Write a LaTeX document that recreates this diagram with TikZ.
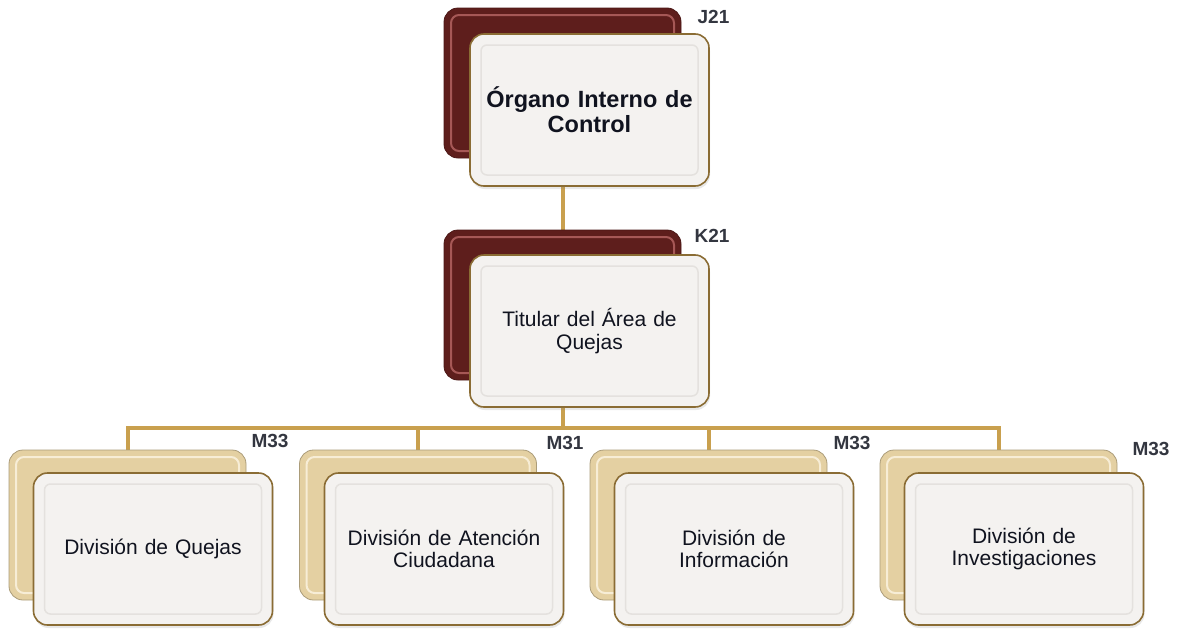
\documentclass[tikz,border=0pt]{standalone}
\usepackage{fontspec}
\setmainfont{Liberation Sans}
\usetikzlibrary{backgrounds,shadows}
\definecolor{maroon}{HTML}{5E1E1C}
\definecolor{maroonhi}{HTML}{A65856}
\definecolor{tan}{HTML}{E4D0A2}
\definecolor{tanhi}{HTML}{F7EDD6}
\definecolor{gold}{HTML}{C9A04E}
\definecolor{frontfill}{HTML}{F4F2F0}
\definecolor{frontbevel}{HTML}{E4E1DE}
\definecolor{frontedge}{HTML}{8A6C34}
\definecolor{labelc}{HTML}{333640}
\definecolor{textc}{HTML}{10131F}
\tikzset{
  backbase/.style={rectangle, rounded corners=14pt, minimum width=237pt, minimum height=150pt, inner sep=0pt},
  backmaroon/.style={backbase, fill=maroon, draw=maroon!80!black, line width=0.8pt,
    path picture={\draw[maroonhi, line width=2pt, rounded corners=8pt]
      ([shift={(7pt,-7pt)}]path picture bounding box.north west) rectangle
      ([shift={(-7pt,7pt)}]path picture bounding box.south east);}},
  backtan/.style={backbase, fill=tan, draw=tan!75!black, line width=0.8pt,
    path picture={\draw[tanhi, line width=2pt, rounded corners=8pt]
      ([shift={(7pt,-7pt)}]path picture bounding box.north west) rectangle
      ([shift={(-7pt,7pt)}]path picture bounding box.south east);}},
  frontbox/.style={rectangle, rounded corners=14pt, minimum width=239pt, minimum height=152pt,
    inner sep=4pt, fill=frontfill, draw=frontedge, line width=1.6pt,
    text width=220pt, align=center, text=textc, font=\fontsize{21}{22.5}\selectfont,
    drop shadow={shadow xshift=1pt, shadow yshift=-3pt, opacity=0.18},
    path picture={\draw[frontbevel, line width=1.5pt, rounded corners=6pt]
      ([shift={(11pt,-11pt)}]path picture bounding box.north west) rectangle
      ([shift={(-11pt,11pt)}]path picture bounding box.south east);}},
  levellabel/.style={font=\bfseries\fontsize{19}{20}\selectfont, text=labelc, inner sep=0pt},
  link/.style={draw=gold, line width=4pt}
}
\begin{document}
\begin{tikzpicture}[x=1pt,y=-1pt]
\useasboundingbox (0,0) rectangle (1179,632);
% top
\node[backmaroon] (jback) at (562.5,83) {};
\node[frontbox, font=\bfseries\fontsize{23.5}{25}\selectfont] (jfront) at (589.5,110) {Órgano Interno de\\Control};
\node[levellabel] (jlab) at (713.5,17) {J21};
% second
\node[backmaroon] (kback) at (562.5,305) {};
\node[frontbox] (kfront) at (589.5,331) {Titular del Área de\\Quejas};
\node[levellabel] (klab) at (712,236) {K21};
% bottom row
\node[backtan] (d1back) at (127.5,525) {};
\node[frontbox] (d1front) at (153,549) {División de Quejas};
\node[levellabel] (d1lab) at (270,441) {M33};
\node[backtan] (d2back) at (418,525) {};
\node[frontbox] (d2front) at (444,549) {División de Atención\\Ciudadana};
\node[levellabel] (d2lab) at (565,443) {M31};
\node[backtan] (d3back) at (708.5,525) {};
\node[frontbox] (d3front) at (734,549) {División de\\Información};
\node[levellabel] (d3lab) at (852,443) {M33};
\node[backtan] (d4back) at (998.5,525) {};
\node[frontbox] (d4front) at (1024,549) {División de\\Investigaciones};
\node[levellabel] (d4lab) at (1151,449) {M33};
\coordinate (bus) at (562.5,428);
\begin{scope}[on background layer]
  \draw[link] (jback.south) -- (kback.north);
  \draw[link] (kback.south) -- (bus);
  \draw[link] (bus) -| (d1back.north);
  \draw[link] (bus) -| (d2back.north);
  \draw[link] (bus) -| (d3back.north);
  \draw[link] (bus) -| (d4back.north);
\end{scope}
\end{tikzpicture}
\end{document}
